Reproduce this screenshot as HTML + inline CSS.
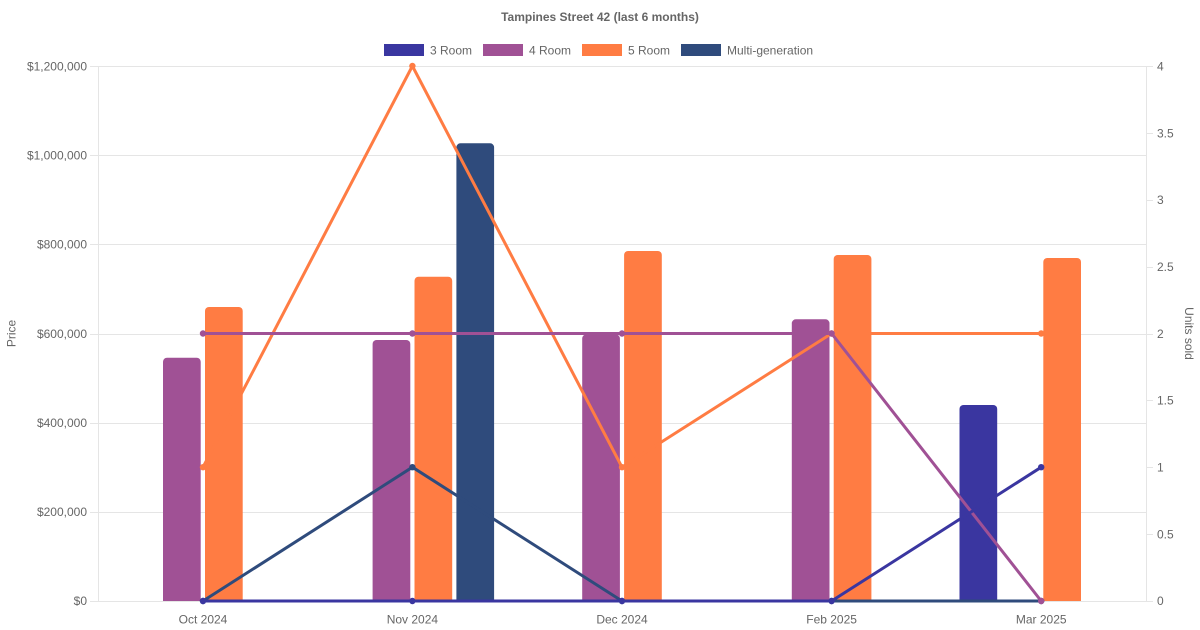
<!DOCTYPE html>
<html>
<head>
<meta charset="utf-8">
<style>
  html, body { margin: 0; padding: 0; background: #ffffff; }
  svg { display: block; }
  text { font-family: "Liberation Sans", Arial, sans-serif; fill: #666666; }
</style>
</head>
<body>
<svg width="1200" height="630" viewBox="0 0 1200 630" xmlns="http://www.w3.org/2000/svg">
  <!-- Title -->
  <text x="600" y="21" font-size="12" font-weight="bold" text-anchor="middle">Tampines Street 42 (last 6 months)</text>

  <!-- Legend -->
  <rect x="384" y="44" width="40" height="12" fill="#3a36a0"/>
  <text x="430" y="54.5" font-size="12">3 Room</text>
  <rect x="483" y="44" width="40" height="12" fill="#a05195"/>
  <text x="529" y="54.5" font-size="12">4 Room</text>
  <rect x="582" y="44" width="40" height="12" fill="#ff7c43"/>
  <text x="628" y="54.5" font-size="12">5 Room</text>
  <rect x="681" y="44" width="40" height="12" fill="#2f4b7c"/>
  <text x="727" y="54.5" font-size="12">Multi-generation</text>

  <!-- Grid lines (left axis) -->
  <g stroke="#e5e5e5" stroke-width="1">
    <line x1="90" y1="66.5" x2="1146" y2="66.5"/>
    <line x1="90" y1="155.5" x2="1146" y2="155.5"/>
    <line x1="90" y1="244.5" x2="1146" y2="244.5"/>
    <line x1="90" y1="334.5" x2="1146" y2="334.5"/>
    <line x1="90" y1="423.5" x2="1146" y2="423.5"/>
    <line x1="90" y1="512.5" x2="1146" y2="512.5"/>
    <line x1="90" y1="601.5" x2="1146" y2="601.5"/>
    <!-- axis lines -->
    <line x1="98.5" y1="66" x2="98.5" y2="601"/>
    <line x1="1146.5" y1="66" x2="1146.5" y2="601"/>
    <!-- right ticks -->
    <line x1="1146" y1="66.5" x2="1153" y2="66.5"/>
    <line x1="1146" y1="133.5" x2="1153" y2="133.5"/>
    <line x1="1146" y1="200.5" x2="1153" y2="200.5"/>
    <line x1="1146" y1="267.5" x2="1153" y2="267.5"/>
    <line x1="1146" y1="334.5" x2="1153" y2="334.5"/>
    <line x1="1146" y1="400.5" x2="1153" y2="400.5"/>
    <line x1="1146" y1="467.5" x2="1153" y2="467.5"/>
    <line x1="1146" y1="534.5" x2="1153" y2="534.5"/>
    <line x1="1146" y1="601.5" x2="1153" y2="601.5"/>
  </g>

  <!-- Left axis labels -->
  <g font-size="12" text-anchor="end">
    <text x="87" y="70.5">$1,200,000</text>
    <text x="87" y="159.5">$1,000,000</text>
    <text x="87" y="248.5">$800,000</text>
    <text x="87" y="338">$600,000</text>
    <text x="87" y="427">$400,000</text>
    <text x="87" y="516">$200,000</text>
    <text x="87" y="605">$0</text>
  </g>

  <!-- Right axis labels -->
  <g font-size="12" text-anchor="start">
    <text x="1157" y="70.5">4</text>
    <text x="1157" y="137.5">3.5</text>
    <text x="1157" y="204">3</text>
    <text x="1157" y="271">2.5</text>
    <text x="1157" y="338">2</text>
    <text x="1157" y="404.5">1.5</text>
    <text x="1157" y="471.5">1</text>
    <text x="1157" y="538.5">0.5</text>
    <text x="1157" y="605">0</text>
  </g>

  <!-- Axis titles -->
  <text font-size="12" text-anchor="middle" transform="translate(15.5,333.5) rotate(-90)">Price</text>
  <text font-size="12" text-anchor="middle" transform="translate(1185,333.5) rotate(90)">Units sold</text>

  <!-- X labels -->
  <g font-size="12" text-anchor="middle">
    <text x="203" y="623.5">Oct 2024</text>
    <text x="412.4" y="623.5">Nov 2024</text>
    <text x="622" y="623.5">Dec 2024</text>
    <text x="831.6" y="623.5">Feb 2025</text>
    <text x="1041.2" y="623.5">Mar 2025</text>
  </g>

  <!-- Bars -->
  <g>
    <!-- Oct -->
    <path d="M163,601 V361.7 a4,4 0 0 1 4,-4 H196.7 a4,4 0 0 1 4,4 V601 Z" fill="#a05195"/>
    <path d="M205,601 V311 a4,4 0 0 1 4,-4 H238.7 a4,4 0 0 1 4,4 V601 Z" fill="#ff7c43"/>
    <!-- Nov -->
    <path d="M372.6,601 V344 a4,4 0 0 1 4,-4 H406.3 a4,4 0 0 1 4,4 V601 Z" fill="#a05195"/>
    <path d="M414.5,601 V280.7 a4,4 0 0 1 4,-4 H448.2 a4,4 0 0 1 4,4 V601 Z" fill="#ff7c43"/>
    <path d="M456.4,601 V147.3 a4,4 0 0 1 4,-4 H490.1 a4,4 0 0 1 4,4 V601 Z" fill="#2f4b7c"/>
    <!-- Dec -->
    <path d="M582.2,601 V338.5 a4,4 0 0 1 4,-4 H615.9 a4,4 0 0 1 4,4 V601 Z" fill="#a05195"/>
    <path d="M624.1,601 V255 a4,4 0 0 1 4,-4 H657.8 a4,4 0 0 1 4,4 V601 Z" fill="#ff7c43"/>
    <!-- Feb -->
    <path d="M791.8,601 V323.3 a4,4 0 0 1 4,-4 H825.5 a4,4 0 0 1 4,4 V601 Z" fill="#a05195"/>
    <path d="M833.7,601 V259 a4,4 0 0 1 4,-4 H867.4 a4,4 0 0 1 4,4 V601 Z" fill="#ff7c43"/>
    <!-- Mar -->
    <path d="M959.5,601 V409 a4,4 0 0 1 4,-4 H993.2 a4,4 0 0 1 4,4 V601 Z" fill="#3a36a0"/>
    <path d="M1043.3,601 V262 a4,4 0 0 1 4,-4 H1077 a4,4 0 0 1 4,4 V601 Z" fill="#ff7c43"/>
  </g>

  <!-- Lines (units sold) -->
  <g fill="none" stroke-width="3" stroke-linejoin="round" stroke-linecap="round">
    <!-- Multi-generation: 0,1,0,0,0 -->
    <polyline stroke="#2f4b7c" points="203,601 412.4,467.2 622,601 831.6,601 1041.2,601"/>
    <!-- 5 Room: 1,4,1,2,2 -->
    <polyline stroke="#ff7c43" points="203,467.2 412.4,66 622,467.2 831.6,333.5 1041.2,333.5"/>
    <!-- 4 Room: 2,2,2,2,0 -->
    <polyline stroke="#a05195" points="203,333.5 412.4,333.5 622,333.5 831.6,333.5 1041.2,601"/>
    <!-- 3 Room: 0,0,0,0,1 -->
    <polyline stroke="#3a36a0" points="203,601 412.4,601 622,601 831.6,601 1041.2,467.2"/>
  </g>

  <!-- Points -->
  <g>
    <g fill="#2f4b7c">
      <circle cx="203" cy="601" r="3.2"/><circle cx="412.4" cy="467.2" r="3.2"/><circle cx="622" cy="601" r="3.2"/><circle cx="831.6" cy="601" r="3.2"/><circle cx="1041.2" cy="601" r="3.2"/>
    </g>
    <g fill="#ff7c43">
      <circle cx="203" cy="467.2" r="3.2"/><circle cx="412.4" cy="66" r="3.2"/><circle cx="622" cy="467.2" r="3.2"/><circle cx="831.6" cy="333.5" r="3.2"/><circle cx="1041.2" cy="333.5" r="3.2"/>
    </g>
    <g fill="#a05195">
      <circle cx="203" cy="333.5" r="3.2"/><circle cx="412.4" cy="333.5" r="3.2"/><circle cx="622" cy="333.5" r="3.2"/><circle cx="831.6" cy="333.5" r="3.2"/><circle cx="1041.2" cy="601" r="3.2"/>
    </g>
    <g fill="#3a36a0">
      <circle cx="203" cy="601" r="3.2"/><circle cx="412.4" cy="601" r="3.2"/><circle cx="622" cy="601" r="3.2"/><circle cx="831.6" cy="601" r="3.2"/><circle cx="1041.2" cy="467.2" r="3.2"/>
    </g>
  </g>
</svg>
</body>
</html>
